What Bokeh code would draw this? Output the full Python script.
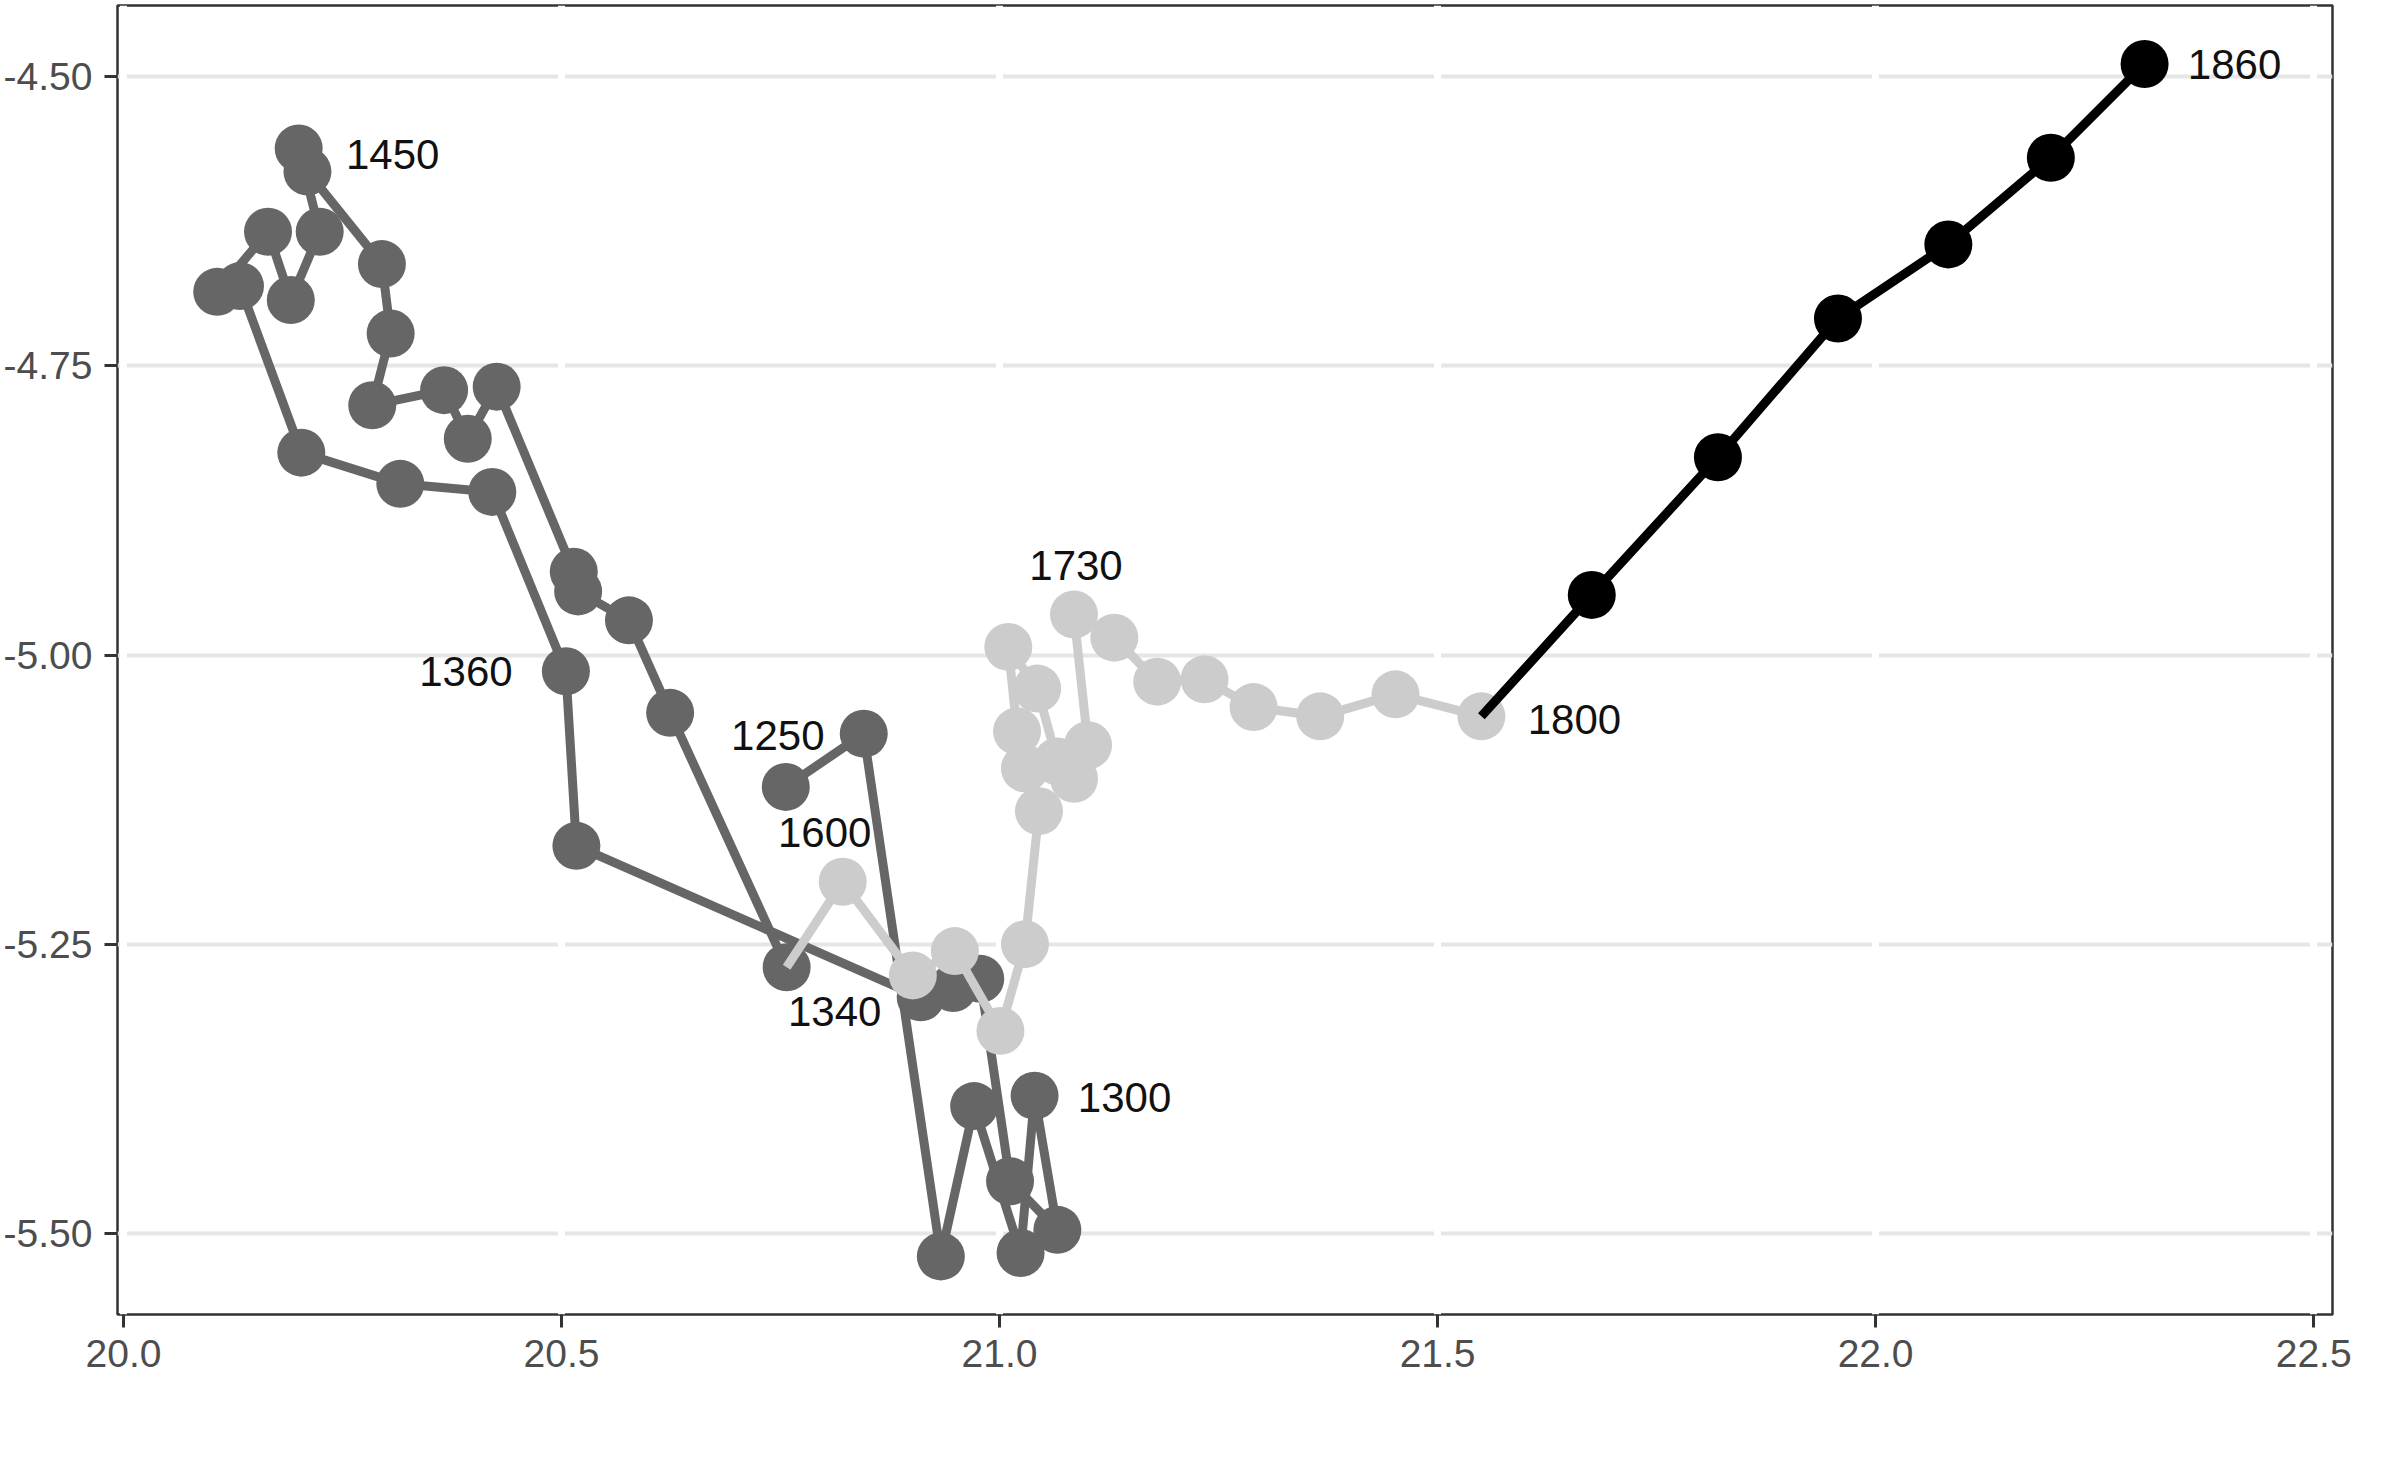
from bokeh.plotting import figure
from bokeh.models import ColumnDataSource, FixedTicker, NumeralTickFormatter, Range1d, Grid
from bokeh.core.properties import value
from bokeh.embed import file_html
from bokeh.resources import INLINE

# ---- data ----
dark_x = [20.756, 20.845, 20.933, 20.971, 21.024, 21.040, 21.066, 21.012, 20.978, 20.947,
          20.910, 20.517, 20.505, 20.421, 20.316, 20.203, 20.133, 20.107, 20.165, 20.191,
          20.224, 20.200, 20.210, 20.295, 20.305, 20.284, 20.366, 20.393, 20.426, 20.514,
          20.519, 20.577, 20.624, 20.757]
dark_y = [-5.114, -5.068, -5.520, -5.390, -5.517, -5.381, -5.497, -5.455, -5.280, -5.288,
          -5.296, -5.165, -5.014, -4.859, -4.852, -4.825, -4.681, -4.686, -4.634, -4.693,
          -4.634, -4.562, -4.582, -4.662, -4.722, -4.784, -4.771, -4.813, -4.768, -4.928,
          -4.945, -4.970, -5.050, -5.270]

light_x = [20.821, 20.901, 20.949, 21.001, 21.029, 21.045, 21.029, 21.020, 21.010, 21.043,
           21.066, 21.085, 21.101, 21.085, 21.131, 21.180, 21.234, 21.290, 21.366, 21.452,
           21.550]
light_y = [-5.196, -5.277, -5.256, -5.325, -5.250, -5.135, -5.098, -5.066, -4.993, -5.029,
           -5.092, -5.107, -5.078, -4.965, -4.985, -5.023, -5.021, -5.045, -5.053, -5.034,
           -5.053]

black_x = [21.676, 21.820, 21.957, 22.083, 22.200, 22.307]
black_y = [-4.948, -4.829, -4.709, -4.645, -4.570, -4.489]

label_text = ["1250", "1300", "1340", "1360", "1450", "1600", "1730", "1800", "1860"]
label_x = [dark_x[0], dark_x[5], dark_x[10], dark_x[12], dark_x[21], light_x[0], light_x[13], light_x[20], black_x[5]]
label_y = [dark_y[0], dark_y[5], dark_y[10], dark_y[12], dark_y[21], light_y[0], light_y[13], light_y[20], black_y[5]]

x_ticks = [20.0, 20.5, 21.0, 21.5, 22.0, 22.5]
y_ticks = [-5.50, -5.25, -5.00, -4.75, -4.50]

# ---- styling ----
label_dx = [-8, 90, -86, -100, 94, -18, 2, 93, 90]
label_dy = [-51, 2, 14, 0, 6, -49, -49, 3, 0]

DARK = "#666666"
LIGHT = "#CCCCCC"
BLACK = "#000000"
PT = 48
LW = 9

p = figure(frame_width=2215, frame_height=1309,
           x_range=Range1d(19.9932, 22.5215), y_range=Range1d(-5.5702, -4.4384),
           output_backend="svg", toolbar_location=None,
           min_border_left=117, min_border_right=60, min_border_top=5, min_border_bottom=135,
           background_fill_color="white", border_fill_color="white")

p.outline_line_color = "#333333"
p.outline_line_width = 2.5

for ax, ticks, fmt in ((p.xaxis[0], x_ticks, "0.0"), (p.yaxis[0], y_ticks, "0.00")):
    ax.ticker = FixedTicker(ticks=ticks)
    ax.formatter = NumeralTickFormatter(format=fmt)
    ax.axis_line_color = None
    ax.major_tick_out = 13
    ax.major_tick_in = 0
    ax.major_tick_line_color = "#333333"
    ax.major_tick_line_width = 3
    ax.minor_tick_line_color = None
    ax.major_label_text_font = "Liberation Sans"
    ax.major_label_text_font_size = "39px"
    ax.major_label_text_color = "#4D4D4D"
    ax.major_label_standoff = 12

p.ygrid.ticker = FixedTicker(ticks=y_ticks)
p.ygrid.grid_line_color = "#E6E6E6"
p.ygrid.grid_line_width = 4
p.xgrid.grid_line_color = None
vgrid = Grid(dimension=0, ticker=FixedTicker(ticks=x_ticks), grid_line_color="white", grid_line_width=7)
p.add_layout(vgrid)

# dark period
p.line(dark_x, dark_y, line_color=DARK, line_width=LW, line_join="round")
p.scatter(dark_x, dark_y, size=PT, fill_color=DARK, line_color=None)
# light period (path starts from last dark point)
p.line([dark_x[-1]] + light_x, [dark_y[-1]] + light_y, line_color=LIGHT, line_width=LW, line_join="round")
p.scatter(light_x, light_y, size=PT, fill_color=LIGHT, line_color=None)
# black period (path starts from last light point)
p.line([light_x[-1]] + black_x, [light_y[-1]] + black_y, line_color=BLACK, line_width=LW, line_join="round")
p.scatter(black_x, black_y, size=PT, fill_color=BLACK, line_color=None)

src = ColumnDataSource(dict(x=label_x, y=label_y, t=label_text, dx=label_dx, dy=label_dy))
p.text(x="x", y="y", text="t", x_offset="dx", y_offset="dy", source=src,
       text_font=value("Liberation Sans"), text_font_size="42px", text_color="#111111",
       text_align="center", text_baseline="middle")

open("out.html", "w").write(file_html(p, INLINE))
